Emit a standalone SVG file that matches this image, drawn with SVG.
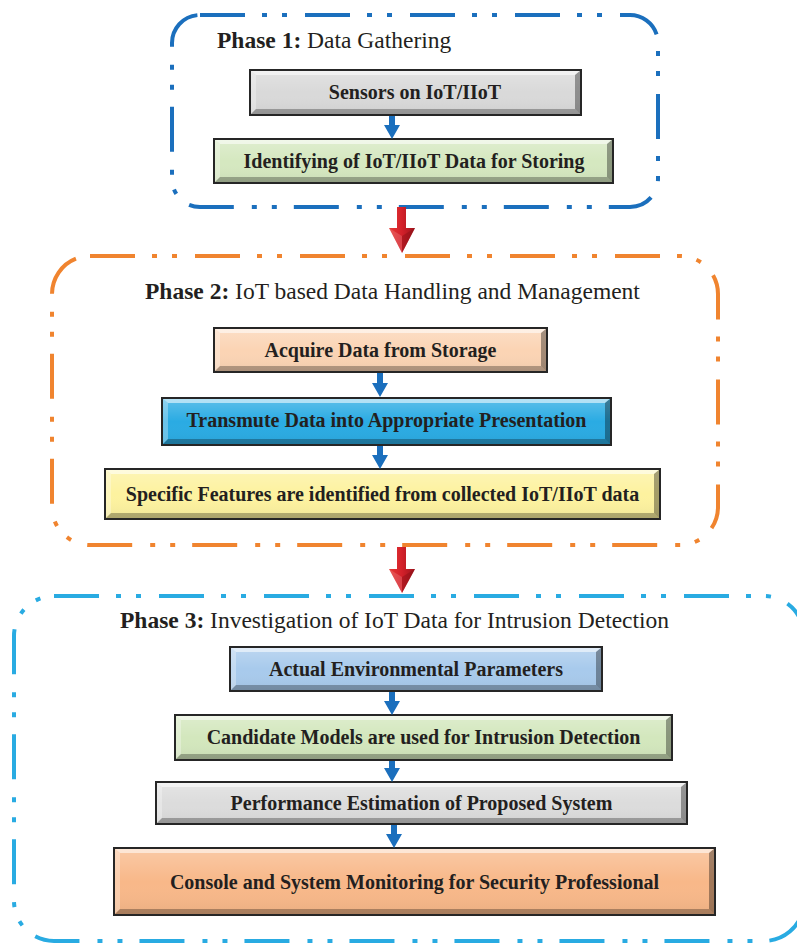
<svg xmlns="http://www.w3.org/2000/svg" width="797" height="943" viewBox="0 0 797 943">
<defs>
<style>
.ph{fill:none;stroke-width:4;stroke-dasharray:45 17 5 15 5 18;stroke-linecap:butt}
.t{font-family:"Liberation Serif","Times New Roman",serif;fill:#231f20}
.title{font-size:23.5px}
.b{font-weight:bold}
.bx{font-size:20px;font-weight:bold;text-anchor:middle}
.edge{fill:none;stroke:#262626;stroke-width:2}
.bt{fill:#fff;fill-opacity:.55}
.bl{fill:#fff;fill-opacity:.3}
.bb{fill:#000;fill-opacity:.28}
.br{fill:#000;fill-opacity:.35}
.ba{fill:#1b6fbd}
</style>
<linearGradient id="sh" x1="0" y1="0" x2="0" y2="1">
<stop offset="0" stop-color="#fff" stop-opacity=".25"/>
<stop offset=".5" stop-color="#fff" stop-opacity="0"/>
<stop offset="1" stop-color="#000" stop-opacity=".06"/>
</linearGradient>
<linearGradient id="red" x1="0" y1="0" x2="1" y2="0">
<stop offset="0" stop-color="#e63a36"/>
<stop offset=".5" stop-color="#d3202a"/>
<stop offset="1" stop-color="#9e141c"/>
</linearGradient>
</defs>

<g id="phase1">
<rect class="ph" x="172" y="15" width="486" height="192" rx="28" stroke="#1b6fbd"/>
<text class="t title" x="217" y="48"><tspan class="b">Phase 1:</tspan> Data Gathering</text>
</g>
<g id="phase2">
<rect class="ph" x="52" y="256" width="666" height="289" rx="38" stroke="#f0842f"/>
<text class="t title" x="145" y="299"><tspan class="b">Phase 2:</tspan> IoT based Data Handling and Management</text>
</g>
<g id="phase3">
<rect class="ph" x="14" y="596" width="790" height="345" rx="40" stroke="#29abe2"/>
<text class="t title" x="120" y="628"><tspan class="b">Phase 3:</tspan> Investigation of IoT Data for Intrusion Detection</text>
</g>

<g id="n1">
<rect x="250" y="70" width="331" height="45" fill="#d9d9d9"/>
<rect x="250" y="70" width="331" height="45" fill="url(#sh)"/>
<polygon class="bt" points="250,70 581,70 575,75 256,75"/>
<polygon class="bl" points="250,70 256,75 256,109 250,115"/>
<polygon class="bb" points="250,115 256,109 575,109 581,115"/>
<polygon class="br" points="581,70 575,75 575,109 581,115"/>
<rect class="edge" x="250" y="70" width="331" height="45"/>
<text class="t bx" x="415" y="99">Sensors on IoT/IIoT</text>
</g>
<g id="n2">
<rect x="214" y="139" width="399" height="44" fill="#d5e8c0"/>
<rect x="214" y="139" width="399" height="44" fill="url(#sh)"/>
<polygon class="bt" points="214,139 613,139 607,144 220,144"/>
<polygon class="bl" points="214,139 220,144 220,177 214,183"/>
<polygon class="bb" points="214,183 220,177 607,177 613,183"/>
<polygon class="br" points="613,139 607,144 607,177 613,183"/>
<rect class="edge" x="214" y="139" width="399" height="44"/>
<text class="t bx" x="414" y="167.5">Identifying of IoT/IIoT Data for Storing</text>
</g>
<g id="n3">
<rect x="214" y="328" width="333" height="44" fill="#fbd4b4"/>
<rect x="214" y="328" width="333" height="44" fill="url(#sh)"/>
<polygon class="bt" points="214,328 547,328 541,333 220,333"/>
<polygon class="bl" points="214,328 220,333 220,366 214,372"/>
<polygon class="bb" points="214,372 220,366 541,366 547,372"/>
<polygon class="br" points="547,328 541,333 541,366 547,372"/>
<rect class="edge" x="214" y="328" width="333" height="44"/>
<text class="t bx" x="380.5" y="356.5">Acquire Data from Storage</text>
</g>
<g id="n4">
<rect x="162" y="398" width="449" height="47" fill="#2aabe3"/>
<rect x="162" y="398" width="449" height="47" fill="url(#sh)"/>
<polygon class="bt" points="162,398 611,398 605,403 168,403"/>
<polygon class="bl" points="162,398 168,403 168,439 162,445"/>
<polygon class="bb" points="162,445 168,439 605,439 611,445"/>
<polygon class="br" points="611,398 605,403 605,439 611,445"/>
<rect class="edge" x="162" y="398" width="449" height="47"/>
<text class="t bx" x="386.5" y="427">Transmute Data into Appropriate Presentation</text>
</g>
<g id="n5">
<rect x="105" y="469" width="555" height="50" fill="#fdf29f"/>
<rect x="105" y="469" width="555" height="50" fill="url(#sh)"/>
<polygon class="bt" points="105,469 660,469 654,474 111,474"/>
<polygon class="bl" points="105,469 111,474 111,513 105,519"/>
<polygon class="bb" points="105,519 111,513 654,513 660,519"/>
<polygon class="br" points="660,469 654,474 654,513 660,519"/>
<rect class="edge" x="105" y="469" width="555" height="50"/>
<text class="t bx" x="382.5" y="501">Specific Features are identified from collected IoT/IIoT data</text>
</g>
<g id="n6">
<rect x="230" y="647" width="372" height="44" fill="#a8caec"/>
<rect x="230" y="647" width="372" height="44" fill="url(#sh)"/>
<polygon class="bt" points="230,647 602,647 596,652 236,652"/>
<polygon class="bl" points="230,647 236,652 236,685 230,691"/>
<polygon class="bb" points="230,691 236,685 596,685 602,691"/>
<polygon class="br" points="602,647 596,652 596,685 602,691"/>
<rect class="edge" x="230" y="647" width="372" height="44"/>
<text class="t bx" x="416" y="675.5">Actual Environmental Parameters</text>
</g>
<g id="n7">
<rect x="175" y="715" width="497" height="45" fill="#d3e7bd"/>
<rect x="175" y="715" width="497" height="45" fill="url(#sh)"/>
<polygon class="bt" points="175,715 672,715 666,720 181,720"/>
<polygon class="bl" points="175,715 181,720 181,754 175,760"/>
<polygon class="bb" points="175,760 181,754 666,754 672,760"/>
<polygon class="br" points="672,715 666,720 666,754 672,760"/>
<rect class="edge" x="175" y="715" width="497" height="45"/>
<text class="t bx" x="423.5" y="744">Candidate Models are used for Intrusion Detection</text>
</g>
<g id="n8">
<rect x="156" y="782" width="531" height="42" fill="#dcdcdc"/>
<rect x="156" y="782" width="531" height="42" fill="url(#sh)"/>
<polygon class="bt" points="156,782 687,782 681,787 162,787"/>
<polygon class="bl" points="156,782 162,787 162,818 156,824"/>
<polygon class="bb" points="156,824 162,818 681,818 687,824"/>
<polygon class="br" points="687,782 681,787 681,818 687,824"/>
<rect class="edge" x="156" y="782" width="531" height="42"/>
<text class="t bx" x="421.5" y="810">Performance Estimation of Proposed System</text>
</g>
<g id="n9">
<rect x="114" y="848" width="601" height="67" fill="#f8b889"/>
<rect x="114" y="848" width="601" height="67" fill="url(#sh)"/>
<polygon class="bt" points="114,848 715,848 709,853 120,853"/>
<polygon class="bl" points="114,848 120,853 120,909 114,915"/>
<polygon class="bb" points="114,915 120,909 709,909 715,915"/>
<polygon class="br" points="715,848 709,853 709,909 715,915"/>
<rect class="edge" x="114" y="848" width="601" height="67"/>
<text class="t bx" x="414.5" y="888.5">Console and System Monitoring for Security Professional</text>
</g>

<g id="connectors">
<polygon class="ba" points="389,116 395,116 395,125 400,125 392,139 384,125 389,125"/>
<polygon class="ba" points="377,373 383,373 383,383 388,383 380,397 372,383 377,383"/>
<polygon class="ba" points="377,446 383,446 383,455 388,455 380,469 372,455 377,455"/>
<polygon class="ba" points="389,692 395,692 395,701 400,701 392,715 384,701 389,701"/>
<polygon class="ba" points="389,761 395,761 395,768 400,768 392,782 384,768 389,768"/>
<polygon class="ba" points="391,825 397,825 397,834 402,834 394,848 386,834 391,834"/>
<g id="red1">
<polygon fill="url(#red)" points="397,207 406,207 406,228 415,228 402,253 389,228 397,228"/>
<polygon fill="#8a0f16" fill-opacity=".45" points="402,236 415,228 402,253"/>
<polygon fill="#fff" fill-opacity=".15" points="389,228 402,236 402,253"/>
</g>
<g id="red2">
<polygon fill="url(#red)" points="397,547 406,547 406,569 415,569 402,593 389,569 397,569"/>
<polygon fill="#8a0f16" fill-opacity=".45" points="402,577 415,569 402,593"/>
<polygon fill="#fff" fill-opacity=".15" points="389,569 402,577 402,593"/>
</g>
</g>
</svg>
